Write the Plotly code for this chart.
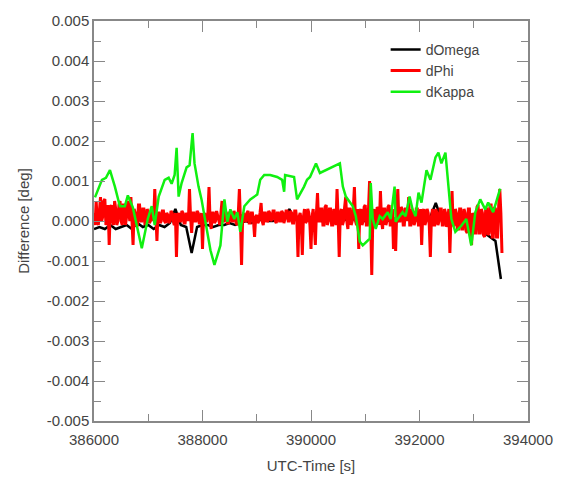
import numpy as np
import plotly.graph_objects as go

# ---------------- data ----------------
# dKappa (green): (UTC time [s], difference [deg])
kappa_t = [386018, 386147, 386220, 386294, 386385, 386477, 386569, 386624, 386716, 386807,
           386881, 386991, 387064, 387119, 387193, 387303, 387376, 387431, 387486, 387523,
           387560, 387615, 387707, 387762, 387817, 387853, 387927, 387982, 388037, 388092,
           388147, 388220, 388330, 388404, 388459, 388514, 388587, 388642, 388697, 388771,
           388881, 389009, 389064, 389138, 389248, 389376, 389468, 389505, 389523, 389688,
           389743, 389872, 389927, 389982, 390092, 390165, 390275, 390367, 390532, 390587,
           390642, 390771, 390826, 390899, 390954, 391083, 391101, 391138, 391193, 391266,
           391321, 391413, 391468, 391541, 391560, 391688, 391743, 391817, 391872, 391927,
           391982, 392037, 392129, 392202, 392294, 392349, 392404, 392478, 392533, 392588,
           392661, 392771, 392863, 392955, 393029, 393120, 393211, 393266, 393358, 393413,
           393487]
kappa_v = [0.00059, 0.00103, 0.00108, 0.00127, 0.00086, 0.00037, 0.00037, 0.00064, 0.00034, -0.00020,
           -0.00068, 0.00005, 0.00037, -0.00010, 0.00061, 0.00103, 0.00108, 0.00093, 0.00115, 0.00183,
           0.00061, 0.00095, 0.00134, 0.00139, 0.00220, 0.00144, 0.00086, 0.00054, 0.00012, -0.00037,
           -0.00073, -0.00110, -0.00061, 0.00054, -0.00002, 0.00029, 0.00005, 0.00022, -0.00027, 0.00037,
           0.00054, 0.00066, 0.00103, 0.00115, 0.00115, 0.00110, 0.00103, 0.00073, 0.00115, 0.00110,
           0.00054, 0.00086, 0.00103, 0.00110, 0.00144, 0.00120, 0.00127, 0.00134, 0.00144, 0.00086,
           0.00061, 0.00037, 0.00012, -0.00051, -0.00061, -0.00044, 0.00095, 0.00005, -0.00020, 0.00012,
           0.00005, 0.00022, 0.00005, 0.00086, -0.00002, 0.00022, 0.00012, 0.00061, 0.00029, 0.00012,
           0.00071, 0.00046, 0.00127, 0.00103, 0.00159, 0.00171, 0.00144, 0.00171, 0.00086, 0.00005,
           -0.00027, -0.00012, 0.00005, -0.00061, 0.00022, 0.00054, 0.00029, 0.00046, 0.00022, 0.00046,
           0.00081]

# dPhi (red): samples every 20 s from 386000, values in units of 1e-4 deg
phi_start, phi_step = 386000, 20
phi_v_e4 = [
    2, -1, 5, 0, -1, 4, 6, 0, 1, 5, 5.5, -1, 0, 4, -6, 3, 4, 0, -1, 5,
    3, -1, 0, 4, 5, 0, -1, 4, 4, -1, 1, 5, 3, 0, 6, 1, -6, 3, 2, -1,
    -1, 4, 4, 0, 0, 3, 3, -1, -0.5, 3, 2, -0.5, 0, 2.5, 1, 0, 8, 1, -5, 2,
    2, -0.5, 0, 2.5, 2.5, 0, -0.5, 2, 1.5, -0.5, 0, 2.5, 2, 0, -1, 2, -9, 1, 2, 0,
    0, 2.5, 2, -0.5, -0.5, 2, 1.5, 0, 8, 1, -3, 2, 2, 0, 0, 2.5, 2, -0.5, -0.5, 2,
    -7, 1, 2, 0, 0, 2, 8.5, 0, -2, 2, 2, -0.5, 0, 2.5, 1.5, 0, -1, 2, 5, 0,
    0, 2.5, 2, -0.5, -0.5, 2, 2, 0, 0, 2.5, 1.5, -0.5, -1, 2, 8, 0, -11, 1, 2, 0,
    0, 2, 2.5, -0.5, -0.5, 2, 2, 0, -4, 1, 1.5, -0.5, 0, 2, 4.5, 0, -1, 2, 2, 0,
    0, 2.5, 2, 0, 0.5, 2.5, 2.5, 0, -0.5, 2, 2, 0, 0, 2.5, 2, -0.5, 0.5, 2.5, 2.5, 0,
    0, 2.5, 2, -0.5, -0.5, 2.5, 2.5, 0, -9, 1, 2, 0, -8.5, 1, 3, -0.5, 0, 3, 2, -1,
    -7, 1, 3, -1, -6, 2, 7, 0, 0, 3, 3, -1, -1, 3.5, 4, -1, 0, 3, 3, -1,
    -1, 3, 2, -1, 8, 1, -9, 2, 3, -1, 0, 3.5, 6, 0, -2, 3, 3, -1, 0, 3,
    8.5, 0, -1, 3, -7, 2, 3, -1, 0, 3.5, 4, -1, -1, 3, 10, 0, -13.5, 1, 3, -1,
    0, 3.5, 3, -1, 7.5, 0, -2, 3, 3, -1, 0, 3.5, 4, -1, -1, 3, -7, 1, -7.5, 2,
    8, 0, 0, 3.5, 3, -1, -1, 3, 3, 0, 6, -1, -1, 3, 2, -1, 0, 3, 3, -1,
    -1, 3, -6, 2, 3, -1, 0, 3, 2, -1, -9, 1, 3, -1, -1, 3, 2, -1, 0, 3,
    3, -1, -1, 3, 2, -1.5, 0, 3, -8, 1, 7.5, -1, -1, 3, 2, -2, -2, 3, 3, -2,
    -2, 3, 2, -2.5, -3, 3, 3, -3, -6, 2, 1, -3, -3, 3.5, 4, -3, -3, 3, 2, -3.5,
    -4, 3, 3, -3.5, -3, 4, 4, -4, -4, 3.5, 3, -4, -4, 4, 8, 2, -8]

# dOmega (black): samples every 100 s from 386000, values in units of 1e-4 deg
omega_start, omega_step = 386000, 100
omega_v_e4 = [-2, -1.5, -2, -1, -2, -1.5, -1, -2, -0.5, -1.5,
              -1, -2, -1, -1.5, -0.5, 3, -1, -1.5, -8, -1.5,
              -1, -1, -1.5, -1, -1, -0.5, -1, -0.5, 0, -0.5,
              0, 0.5, 0, 0, 0.5, 0, 3, 0.5, 0, 0.5,
              0, 1, 0, 0.5, 0, 1, 0.5, 0, 0.5, 0,
              0, 0.5, 0, 1, 0, 0.5, 0, 1, 0.5, 0,
              0.5, 0, 1, 4.5, 0.5, 0, 0.5, 0, -0.5, 0,
              -1, -2, -3, -4, -5, -14.5]

x_tick_vals = [386000, 388000, 390000, 392000, 394000]
x_tick_text = ["386000", "388000", "390000", "392000", "394000"]
y_tick_vals = [-0.005, -0.004, -0.003, -0.002, -0.001, 0.0, 0.001, 0.002, 0.003, 0.004, 0.005]
y_tick_text = ["-0.005", "-0.004", "-0.003", "-0.002", "-0.001", "0.000",
               "0.001", "0.002", "0.003", "0.004", "0.005"]

# ---------------- build ----------------
phi_t = [phi_start + phi_step * i for i in range(len(phi_v_e4))]
phi_v = [v * 1e-4 for v in phi_v_e4]
omega_t = [omega_start + omega_step * i for i in range(len(omega_v_e4))]
omega_v = [v * 1e-4 for v in omega_v_e4]

FONT = "Liberation Sans, Arial, Helvetica, sans-serif"
TXT = "#444444"
AX = "#888888"

fig = go.Figure()
fig.add_trace(go.Scatter(x=omega_t, y=omega_v, mode="lines", name="dOmega",
                         line=dict(color="#000000", width=2.5)))
fig.add_trace(go.Scatter(x=phi_t, y=phi_v, mode="lines", name="dPhi",
                         line=dict(color="#ff0000", width=3)))
fig.add_trace(go.Scatter(x=kappa_t, y=kappa_v, mode="lines", name="dKappa",
                         line=dict(color="#10f010", width=2.5)))

axis_common = dict(showline=True, linecolor=AX, linewidth=1.5, mirror="allticks",
                   ticks="inside", ticklen=11, tickwidth=1.2, tickcolor=AX,
                   showgrid=False, zeroline=False,
                   tickfont=dict(family=FONT, size=15, color=TXT))

fig.update_xaxes(range=[386000, 394000], tickvals=x_tick_vals, ticktext=x_tick_text,
                 ticklabelstandoff=4,
                 minor=dict(ticks="inside", ticklen=7, dtick=1000, tickcolor=AX, showgrid=False),
                 title=dict(text="UTC-Time [s]", font=dict(family=FONT, size=15, color=TXT), standoff=14),
                 **axis_common)
fig.update_yaxes(range=[-0.005, 0.005], tickvals=y_tick_vals, ticktext=y_tick_text,
                 minor=dict(ticks="inside", ticklen=7, dtick=0.0005, tickcolor=AX, showgrid=False),
                 title=dict(text="Difference [deg]", font=dict(family=FONT, size=15, color=TXT), standoff=13),
                 **axis_common)

fig.update_layout(
    width=565, height=484,
    margin=dict(l=94, r=35, t=17, b=58),
    paper_bgcolor="white", plot_bgcolor="white",
    showlegend=True,
    legend=dict(x=0.672, y=0.968, xanchor="left", yanchor="top",
                bgcolor="rgba(0,0,0,0)", borderwidth=0, itemwidth=30,
                font=dict(family=FONT, size=14, color=TXT)),
)

fig.write_html("out.html")
